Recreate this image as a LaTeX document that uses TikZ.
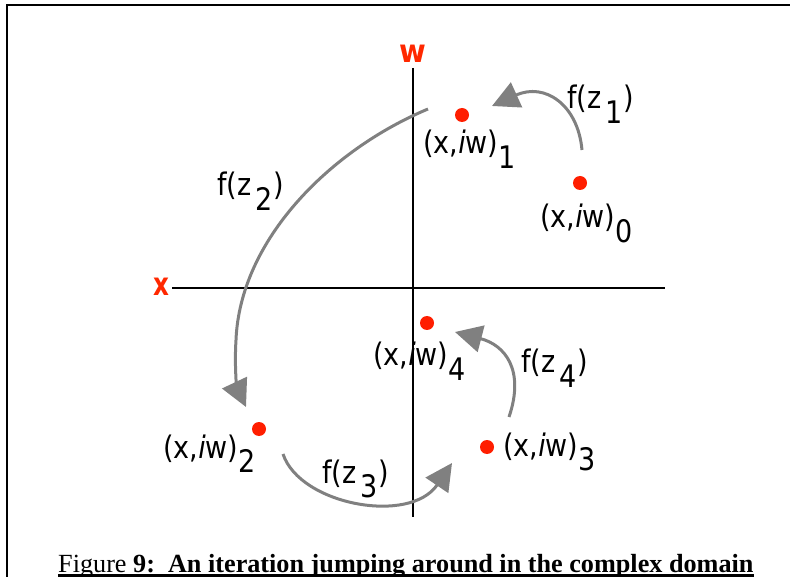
\documentclass[tikz,border=0pt]{standalone}
\usepackage{fontspec}
\setmainfont{Liberation Serif}
\newfontfamily\dvfont{DejaVu Sans}
\usetikzlibrary{arrows.meta}
\definecolor{axisred}{RGB}{255,40,0}
\definecolor{dotred}{RGB}{255,30,0}
\definecolor{arrgray}{RGB}{128,128,128}
\newcommand\ptlab[1]{\scalebox{1}[1.15]{(x,{\itshape i}w)\raisebox{-13pt}{#1}}}
\newcommand\flab[1]{\scalebox{1}[1.15]{f(z\,\raisebox{-13pt}{#1})}}
\tikzset{
  axisline/.style={line width=1.4pt, black},
  axislabel/.style={text=axisred, font=\dvfont\fontsize{29}{29}\selectfont\bfseries, inner sep=0pt},
  ptdot/.style={circle, fill=dotred, minimum size=14pt, inner sep=0pt},
  lbl/.style={font=\dvfont\fontsize{27}{27}\selectfont, inner sep=0pt, anchor=base west},
  jump/.style={arrgray, line width=3pt, -{Triangle[length=27pt,width=27pt]}},
  framel/.style={line width=2.2pt, black}
}
\begin{document}
\begin{tikzpicture}[x=1pt,y=-1pt]
\useasboundingbox (0,0) rectangle (790,577);
% frame
\coordinate (ftr) at (790,5);
\coordinate (ftl) at (7,5);
\coordinate (fbl) at (7,577);
\draw[framel] (ftr) -- (ftl) -- (fbl);
% axes
\coordinate (vt) at (413,68);
\coordinate (vb) at (413,517);
\coordinate (hl) at (172,288);
\coordinate (hr) at (665,288);
\draw[axisline] (vt) -- (vb);
\draw[axisline] (hl) -- (hr);
\node[axislabel, anchor=base] (wl) at (413,63) {\scalebox{1}[1.1]{w}};
\node[axislabel] (xl) at (161,287) {\scalebox{0.85}[1.1]{x}};
% points
\node[ptdot] (p0) at (580,183) {};
\node[ptdot] (p1) at (462,115) {};
\node[ptdot] (p2) at (259,429) {};
\node[ptdot] (p3) at (487,447) {};
\node[ptdot] (p4) at (427,323) {};
% point labels
\node[lbl] (l1) at (423,154) {\ptlab{1}};
\node[lbl] (l0) at (540,228) {\ptlab{0}};
\node[lbl] (l4) at (373,366) {\ptlab{4}};
\node[lbl] (l2) at (163,458) {\ptlab{2}};
\node[lbl] (l3) at (503,456) {\ptlab{3}};
% function labels
\node[lbl] (f1) at (567,109) {\flab{1}};
\node[lbl] (f2) at (217,196) {\flab{2}};
\node[lbl] (f3) at (322,483) {\flab{3}};
\node[lbl] (f4) at (521,373) {\flab{4}};
% arrows
\coordinate (a1s) at (582,150);
\coordinate (a1e) at (492,106);
\draw[jump] (a1s) .. controls (578,105) and (545,82) .. (a1e);
\coordinate (a2s) at (428,109);
\coordinate (a2m) at (236,340);
\coordinate (a2e) at (246,407);
\draw[jump] (a2s) .. controls (330,150) and (240,240) .. (a2m) .. controls (234,372) and (238,390) .. (a2e);
\coordinate (a3s) at (283,454);
\coordinate (a3e) at (452,463);
\draw[jump] (a3s) .. controls (300,505) and (410,525) .. (a3e);
\coordinate (a4s) at (509,417);
\coordinate (a4e) at (455,332);
\draw[jump] (a4s) .. controls (525,370) and (505,345) .. (a4e);
% caption
\node[inner sep=0pt, anchor=base west, font=\fontsize{26.2}{26.2}\selectfont] (cap) at (58,572)
  {Figure \textbf{9:\ \ An iteration jumping around in the complex domain}};
\draw[line width=3pt] ([yshift=-3.5pt]cap.base west) -- ([yshift=-3.5pt]cap.base east);
\end{tikzpicture}
\end{document}
